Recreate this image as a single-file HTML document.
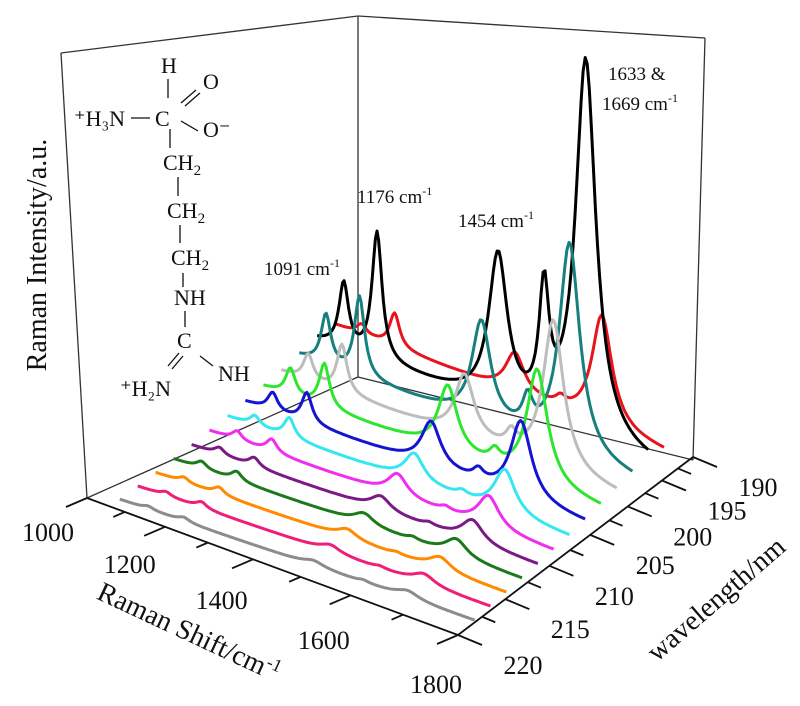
<!DOCTYPE html>
<html><head><meta charset="utf-8"><style>
html,body{margin:0;padding:0;background:#fff;}
svg{display:block;font-family:"Liberation Serif",serif;}
</style></head><body>
<svg id="chart" width="800" height="706" viewBox="0 0 800 706">
<g id="box" stroke="#333" stroke-width="1.3" fill="none">
<line x1="61" y1="53" x2="87" y2="498"/>
<line x1="61" y1="53" x2="358" y2="16"/>
<line x1="358" y1="16" x2="358" y2="377"/>
<line x1="358" y1="16" x2="705" y2="38"/>
<line x1="705" y1="38" x2="693" y2="460"/>
<line x1="358" y1="377" x2="87" y2="498"/>
<line x1="358" y1="377" x2="693" y2="460"/>
</g>
<g id="spectra"></g>
<g id="axes"></g>
<g font-size="22" fill="#111" stroke="#111" stroke-width="1.3">
<text x="161" y="73" stroke="none">H</text>
<line x1="168" y1="79" x2="168" y2="98"/>
<text x="203" y="89" stroke="none">O</text>
<line x1="181" y1="103" x2="196" y2="90"/><line x1="185" y1="106" x2="200" y2="93"/>
<text x="74" y="126" stroke="none">⁺H₃N</text>
<line x1="131" y1="118" x2="150" y2="118"/>
<text x="155" y="126" stroke="none">C</text>
<line x1="181" y1="121" x2="198" y2="131"/>
<text x="203" y="137" stroke="none">O⁻</text>
<line x1="170" y1="129" x2="170" y2="148"/>
<text x="163" y="170" stroke="none">CH<tspan font-size="15" dy="5">2</tspan></text>
<line x1="178" y1="177" x2="178" y2="196"/>
<text x="167" y="218" stroke="none">CH<tspan font-size="15" dy="5">2</tspan></text>
<line x1="180" y1="225" x2="180" y2="243"/>
<text x="171" y="265" stroke="none">CH<tspan font-size="15" dy="5">2</tspan></text>
<line x1="183" y1="273" x2="183" y2="287"/>
<text x="174" y="305" stroke="none">NH</text>
<line x1="185" y1="311" x2="185" y2="327"/>
<text x="177" y="348" stroke="none">C</text>
<line x1="179" y1="353" x2="168" y2="366"/><line x1="183" y1="356" x2="172" y2="369"/>
<line x1="200" y1="356" x2="213" y2="366"/>
<text x="218" y="381" stroke="none">NH</text>
<text x="120" y="396" stroke="none">⁺H₂N</text>
</g>
<g font-size="19" fill="#111">
<text x="264" y="275">1091 cm<tspan font-size="12" dy="-8">-1</tspan></text>
<text x="357" y="203">1176 cm<tspan font-size="12" dy="-8">-1</tspan></text>
<text x="458" y="227">1454 cm<tspan font-size="12" dy="-8">-1</tspan></text>
<text x="608" y="80">1633 &amp;</text>
<text x="602" y="110">1669 cm<tspan font-size="12" dy="-8">-1</tspan></text>
</g>
<text font-size="28" fill="#111" text-anchor="middle" transform="translate(46,255) rotate(-90)">Raman Intensity/a.u.</text>
<text font-size="28" fill="#111" text-anchor="middle" transform="translate(185,640) rotate(25)">Raman Shift/cm<tspan font-size="18" dy="-10">-1</tspan></text>
<text font-size="28" fill="#111" text-anchor="middle" transform="translate(722,606) rotate(-41)">wavelength/nm</text>
</svg>
<script>
// ---- data ----
const wavelengths = [190,192.5,195,197.5,200,202.5,205,207.5,210,212.5,215,217.5,220];
const colors = ['#e8141c','#000000','#17807f','#bdbdbd','#2ee62e','#1414d2','#36e6f0','#f02ef0','#7b1a86','#1b7a1b','#ff8a00','#f01e78','#8c8c8c'];
const peakCenters = [1091,1176,1454,1550,1633];
const peakWidths = [15,15,24,12,24];
const amp1091 = [10,65,50,26,27,18,10,9,7,7,5,4,3];
const amp1176 = [34,128,80,48,44,30,20,13,9,9,7,6,4];
const amp1454 = [40,150,100,62,66,45,28,22,14,11,9,7,5];
const amp1550 = [8,120,30,15,12,10,5,4,3,3,2,2,2];
const amp1633 = [112,380,212,150,115,78,44,32,22,17,13,10,7];
const ramanTicks = [1000,1100,1200,1300,1400,1500,1600,1700,1800];
const ramanLabels = ['1000','1200','1400','1600','1800'];
const wlTicks = [190,192.5,195,197.5,200,202.5,205,207.5,210,212.5,215,217.5,220];
const wlLabels = ['190','195','200','205','210','215','220'];
const shiftStart = 1020, shiftEnd = 1752, shiftStep = 4;

// ---- projection ----
const NS='http://www.w3.org/2000/svg';
function fu(s){const u=(s-1000)/800;return u-0.21*u*(1-u);}
function proj(shift,wl,z){
  const k=(wl-190)/2.5;
  const sx=328-18*k, sy=322+16*k-0.12*k*k;
  const ex=690-15.6*k, ey=462+14*k;
  const u=fu(shift);
  return [sx+u*(ex-sx), sy+u*(ey-sy)-z];
}
function ramanAxis(s){const f=fu(s);return [87+f*(458-87),498+f*(635-498),f];}
function wlAxis(w){const t=(220-w)/30;const f=t+0.25*t*(1-t);return [458+f*(693-458),635+f*(457-635)];}

const sg=document.getElementById('spectra');
for(let i=0;i<wavelengths.length;i++){
  const amps=[amp1091[i],amp1176[i],amp1454[i],amp1550[i],amp1633[i]];
  const pts=[];
  for(let s=shiftStart;s<=shiftEnd;s+=shiftStep){
    let I=0;
    for(let j=0;j<peakCenters.length;j++){const d=(s-peakCenters[j])/peakWidths[j];I+=amps[j]/(1+d*d);}
    const p=proj(s,wavelengths[i],I);
    pts.push(p[0].toFixed(1)+','+p[1].toFixed(1));
  }
  const pl=document.createElementNS(NS,'polyline');
  pl.setAttribute('points',pts.join(' '));
  pl.setAttribute('fill','none');
  pl.setAttribute('stroke',colors[i]);
  pl.setAttribute('stroke-width','3');
  pl.setAttribute('stroke-linejoin','round');
  
  
  sg.appendChild(pl);
}

const ag=document.getElementById('axes');
function line(x1,y1,x2,y2,w){const l=document.createElementNS(NS,'line');l.setAttribute('x1',x1);l.setAttribute('y1',y1);l.setAttribute('x2',x2);l.setAttribute('y2',y2);l.setAttribute('stroke','#111');l.setAttribute('stroke-width',w);ag.appendChild(l);return l;}
const ax1=line(87,498,458,635,1.8);


const ax2=line(458,635,693,457,1.8);


ramanTicks.forEach((s,i)=>{
  const p=ramanAxis(s);const major=i%2===0;const m=major?1:0.55;
  const t=line(p[0],p[1],p[0]-21*m,p[1]+9*m,1.8);
  
  
  if(major){
    const lbl=ramanLabels[i/2];
    const f=p[2];
    const tx=document.createElementNS(NS,'text');
    tx.setAttribute('x',(p[0]-39+17*f).toFixed(1));
    tx.setAttribute('y',(p[1]+34+15*f+9).toFixed(1));
    tx.setAttribute('text-anchor','middle');
    tx.setAttribute('font-size','26');
    tx.setAttribute('fill','#111');
    tx.textContent=lbl;
    
    
    ag.appendChild(tx);
  }
});
wlTicks.forEach((w,i)=>{
  const p=wlAxis(w);const major=i%2===0;const m=major?1:0.55;
  const t=line(p[0],p[1],p[0]+24*m,p[1]+10*m,1.8);
  
  
  if(major){
    const tx=document.createElementNS(NS,'text');
    tx.setAttribute('x',(p[0]+65).toFixed(1));
    tx.setAttribute('y',(p[1]+30+9).toFixed(1));
    tx.setAttribute('text-anchor','middle');
    tx.setAttribute('font-size','26');
    tx.setAttribute('fill','#111');
    tx.textContent=wlLabels[i/2];
    
    
    ag.appendChild(tx);
  }
});
</script>
</body></html>
